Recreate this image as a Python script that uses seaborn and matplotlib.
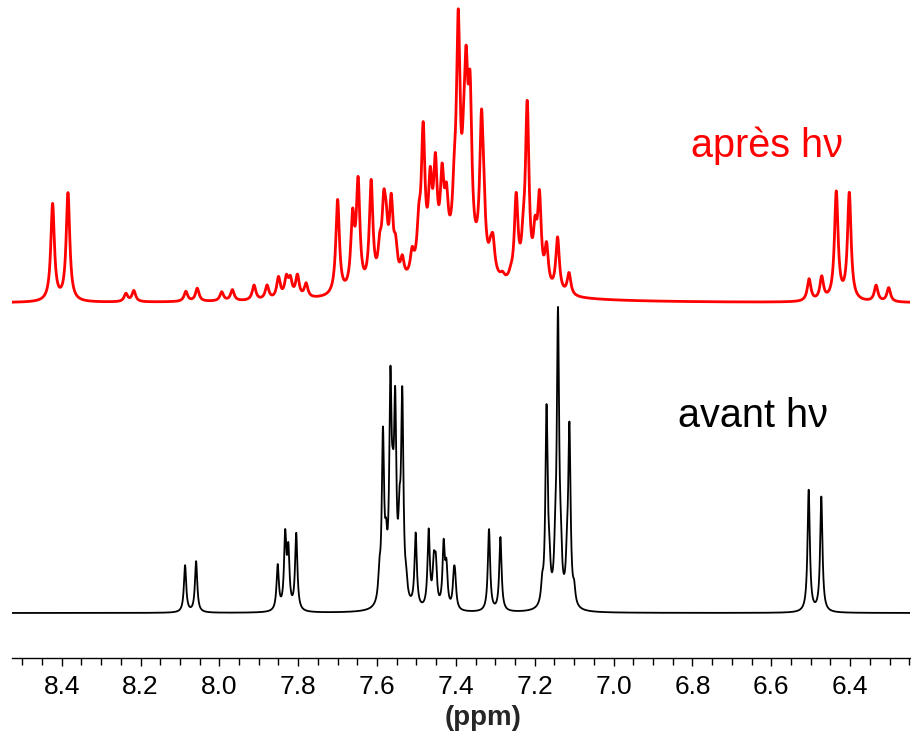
import numpy as np
import pandas as pd
import seaborn as sns
import matplotlib.pyplot as plt
from matplotlib.ticker import MultipleLocator

# ---- peak tables (ppm, height) ----
black_ppm = [8.087, 8.059, 7.852, 7.833, 7.825, 7.805,
             7.594, 7.585, 7.577, 7.566, 7.560, 7.554, 7.543, 7.536, 7.526,
             7.502, 7.469, 7.456, 7.451, 7.431, 7.424, 7.405, 7.402,
             7.316, 7.287,
             7.181, 7.170, 7.163, 7.148, 7.141, 7.134, 7.118, 7.112, 7.100,
             6.505, 6.473]
black_height = [47, 51, 45, 72, 56, 77,
                25, 165, 40, 205, 55, 180, 60, 200, 15,
                74, 77, 40, 40, 62, 38, 28, 24,
                82, 74,
                18, 195, 30, 35, 285, 35, 35, 175, 15,
                122, 115]

red_ppm = [8.423, 8.384, 8.237, 8.217, 8.085, 8.056, 7.994, 7.967,
           7.912, 7.879, 7.850, 7.830, 7.820, 7.802, 7.780,
           7.700, 7.662, 7.648, 7.615, 7.593, 7.583, 7.577, 7.564, 7.553,
           7.536, 7.511, 7.494, 7.483, 7.465, 7.452, 7.435, 7.424, 7.404,
           7.394, 7.380, 7.374, 7.364, 7.335, 7.329, 7.312, 7.306, 7.282,
           7.261, 7.247, 7.229, 7.219, 7.199, 7.188, 7.170, 7.142, 7.113,
           6.504, 6.472, 6.435, 6.402, 6.334, 6.302]
red_height = [97, 108, 8, 11, 10, 13, 9, 11,
              15, 14, 21, 19, 17, 22, 14,
              95, 70, 105, 105, 30, 65, 40, 75, 30,
              20, 22, 40, 135, 75, 90, 75, 50, 45,
              220, 50, 145, 145, 140, 30, 15, 30, 5,
              5, 85, 30, 175, 45, 85, 40, 55, 22,
              22, 23, 108, 107, 16, 14]

# broad underlying hump of the irradiated sample
red_hump_ppm = 7.404
red_hump_height = 35
red_hump_width = 0.11

black_width = 0.0035
red_width = 0.0055
red_offset = 310

label_red = "après hν"
label_black = "avant hν"

x_left, x_right = 8.526, 6.248


def lorentz(x, centres, heights, hwhm):
    y = np.zeros_like(x)
    for c, h in zip(centres, heights):
        y += h * hwhm ** 2 / ((x - c) ** 2 + hwhm ** 2)
    return y


ppm = np.linspace(x_left, x_right, 8000)
black = lorentz(ppm, black_ppm, black_height, black_width)
red = (lorentz(ppm, red_ppm, red_height, red_width)
       + lorentz(ppm, [red_hump_ppm], [red_hump_height], red_hump_width))

df = pd.DataFrame({"ppm": ppm, "avant": black, "apres": red + red_offset})

sns.set_theme(style="white")
plt.rcParams["font.family"] = ["Liberation Sans", "DejaVu Sans"]

fig = plt.figure(figsize=(9.11, 7.36), dpi=100)
ax = fig.add_axes([12 / 911, 1 - 658 / 736, 898 / 911, 658 / 736])

sns.lineplot(data=df, x="ppm", y="avant", color="black", lw=1.3,
             estimator=None, sort=False, ax=ax)
sns.lineplot(data=df, x="ppm", y="apres", color="#ff0000", lw=2.0,
             estimator=None, sort=False, ax=ax)

ax.set_xlim(x_left, x_right)
ax.set_ylim(-45, 613)

ax.text(6.612, 456, label_red, color="#ff0000", fontsize=28.5,
        ha="center", va="baseline")
ax.text(6.647, 186, label_black, color="black", fontsize=28.5,
        ha="center", va="baseline")

for s in ["top", "left", "right"]:
    ax.spines[s].set_visible(False)
ax.spines["bottom"].set_color("black")
ax.spines["bottom"].set_linewidth(1.0)

ax.xaxis.set_major_locator(MultipleLocator(0.2))
ax.xaxis.set_minor_locator(MultipleLocator(0.05))
ax.xaxis.set_major_formatter(plt.FuncFormatter(lambda v, p: f"{v:.1f}"))
ax.tick_params(axis="x", which="both", direction="out", bottom=True,
               colors="black", labelsize=19, pad=6)
ax.tick_params(axis="x", which="major", length=6, width=1)
ax.tick_params(axis="x", which="minor", length=5, width=1)
ax.set_yticks([])
ax.set_ylabel("")
ax.set_xlabel("(ppm)", fontsize=20, fontweight="bold")
ax.xaxis.set_label_coords(0.525, -0.072)

fig.savefig("out.png", dpi=100)
